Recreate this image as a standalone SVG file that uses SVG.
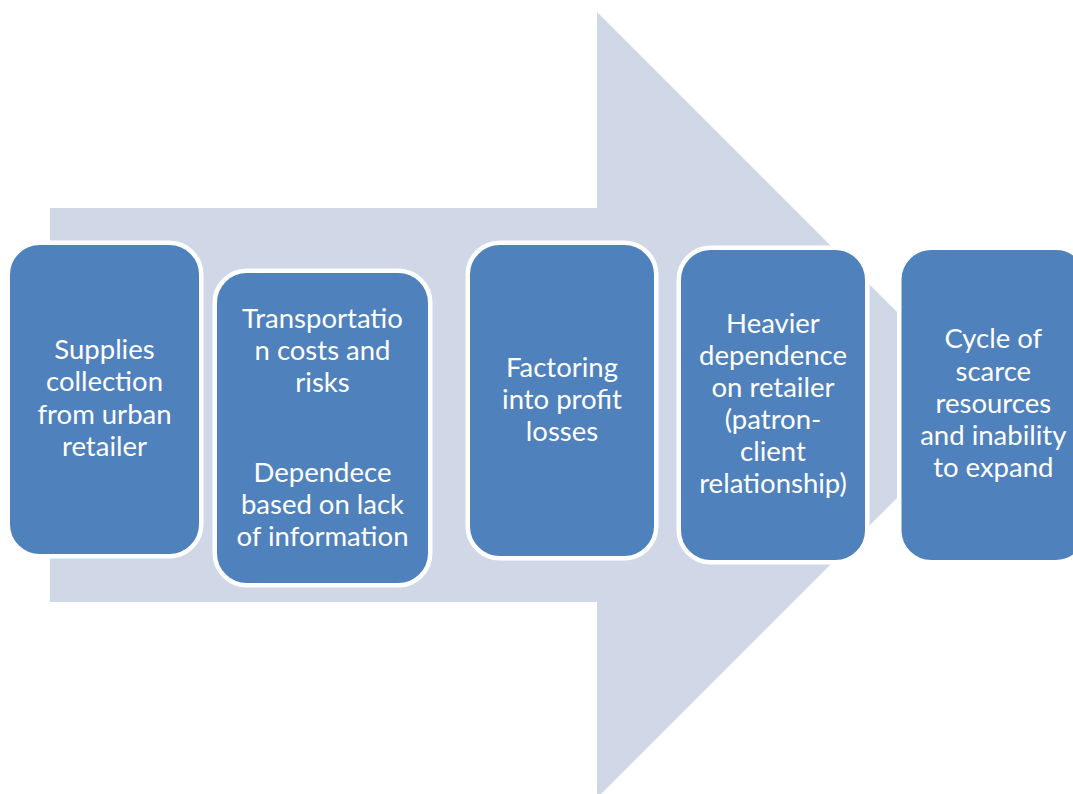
<svg xmlns="http://www.w3.org/2000/svg" width="1073" height="794" viewBox="0 0 1073 794">
<style>
.box{fill:#4F81BD;stroke:#FFFFFF;stroke-width:4.5}
.t{font-family:Lato,"Liberation Sans",sans-serif;font-size:27.5px;fill:#FFFFFF;text-anchor:middle}
</style>
<rect width="1073" height="794" fill="#FFFFFF"/>
<g id="arrow">
<polygon points="50,208 597,208 597,12 990,405 597,798 597,602 50,602" fill="#D0D8E8"/>
</g>
<g id="node1">
<rect class="box" x="7.75" y="242.75" width="193.5" height="313.5" rx="32"/>
<text class="t"><tspan x="104.5" y="359">Supplies</tspan><tspan x="104.5" y="391.3">collection</tspan><tspan x="104.5" y="423.6">from urban</tspan><tspan x="104.5" y="456">retailer</tspan></text>
</g>
<g id="node2">
<rect class="box" x="214.75" y="270.75" width="215.5" height="314.5" rx="32"/>
<text class="t"><tspan x="322.5" y="328">Transportatio</tspan><tspan x="322.5" y="360">n costs and</tspan><tspan x="322.5" y="392">risks</tspan><tspan x="322.5" y="482.3">Dependece</tspan><tspan x="322.5" y="514.3">based on lack</tspan><tspan x="322.5" y="546.3">of information</tspan></text>
</g>
<g id="node3">
<rect class="box" x="467.75" y="242.75" width="188.5" height="315.5" rx="32"/>
<text class="t"><tspan x="562" y="377">Factoring</tspan><tspan x="562" y="409">into profit</tspan><tspan x="562" y="441">losses</tspan></text>
</g>
<g id="node4">
<rect class="box" x="678.75" y="247.75" width="188.5" height="314.5" rx="32"/>
<text class="t"><tspan x="773" y="332.7">Heavier</tspan><tspan x="773" y="364.7">dependence</tspan><tspan x="773" y="396.7">on retailer</tspan><tspan x="773" y="428.7">(patron-</tspan><tspan x="773" y="460.7">client</tspan><tspan x="773" y="492.7">relationship)</tspan></text>
</g>
<g id="node5">
<rect class="box" x="899.25" y="247.75" width="188.5" height="314.5" rx="32"/>
<text class="t"><tspan x="993.3" y="348.3">Cycle of</tspan><tspan x="993.3" y="380.5">scarce</tspan><tspan x="993.3" y="412.7">resources</tspan><tspan x="993.3" y="444.9">and inability</tspan><tspan x="993.3" y="477">to expand</tspan></text>
</g>
</svg>
